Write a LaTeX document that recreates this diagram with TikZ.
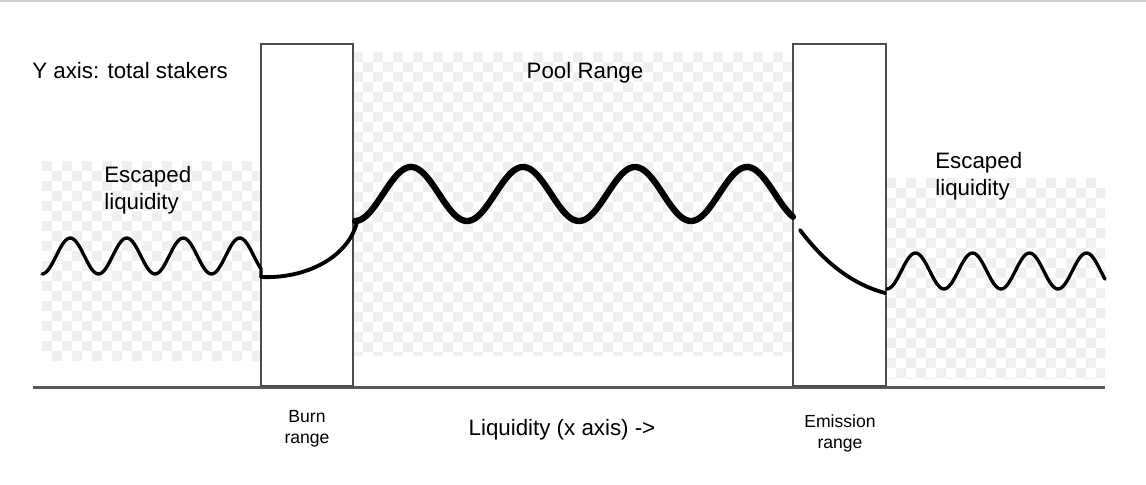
\documentclass[tikz,border=0pt]{standalone}
\usepackage{fontspec}
\setmainfont{Liberation Sans}
\begin{document}
\begin{tikzpicture}[x=0.02cm,y=-0.02cm,line cap=round,
    rangebox/.style={draw=black!70,line width=0.6pt,fill=white},
    thinwave/.style={line width=1.9pt,line join=round},
    txt/.style={inner sep=0pt,font=\fontsize{12.7}{15}\selectfont},
    smalltxt/.style={inner sep=0pt,align=center,font=\fontsize{10}{11.7}\selectfont}]
        % frame of the picture
        \useasboundingbox (0,0) rectangle (1146,484);
        \draw[black!20,line width=0.6pt] (0,1) -- (1146,1);

        % draw the checkered areas
        \foreach \xa/\ya/\xb/\yb in {42/161/261/360,353/52/793/355,886/178/1105/378}{
            \begin{scope}
                \clip (\xa,\ya) rectangle (\xb,\yb);
                \foreach \i in {0,...,44}
                    \foreach \j in {0,...,32}{
                        \pgfmathtruncatemacro{\chk}{mod(\i+\j,2)}
                        \ifnum\chk=0
                            \fill[black!6] (\xa+10*\i,\ya+10*\j) rectangle ++(10,10);
                        \fi
                    }
            \end{scope}
        }

        % draw the x axis
        \draw[black!65,line width=1.7pt,line cap=butt] (33,387) -- (1105,387);

        % draw the burn and emission ranges
        \draw[rangebox] (261,44) rectangle (353,386);
        \draw[rangebox] (793,44) rectangle (886,386);

        % draw the stakers curve
        \draw[thinwave] plot[domain=42:261,samples=120] (\x,{256+18*cos((\x-42)*6.372)}) -- (261,277);
        \draw[line width=2.2pt] (261,277) .. controls (305,279) and (348,258) .. (357,222);
        \draw[line width=3.6pt,line join=round] plot[domain=355:793,samples=200] (\x,{194+27*cos((\x-355)*3.214)});
        \draw[line width=2.2pt] (800,230) .. controls (825,263) and (852,284) .. (885,293);
        \draw[thinwave] plot[domain=887:1105,samples=120] (\x,{271+18*cos((\x-887)*6.316)});

        % draw the texts
        \node[txt,anchor=base west] (ylabel) at (32,78) {Y axis: total stakers};
        \node[txt,anchor=base] (poollabel) at (585,78) {Pool Range};
        \node[txt,anchor=base west,align=left] (escleft) at (104,209) {Escaped\\liquidity};
        \node[txt,anchor=base west,align=left] (escright) at (935,195) {Escaped\\liquidity};
        \node[smalltxt,anchor=base] (burnlabel) at (307,443) {Burn\\range};
        \node[smalltxt,anchor=base] (emissionlabel) at (840,448) {Emission\\range};
        \node[txt,anchor=base] (xlabel) at (562,435) {Liquidity (x axis) ->};
\end{tikzpicture}
\end{document}
